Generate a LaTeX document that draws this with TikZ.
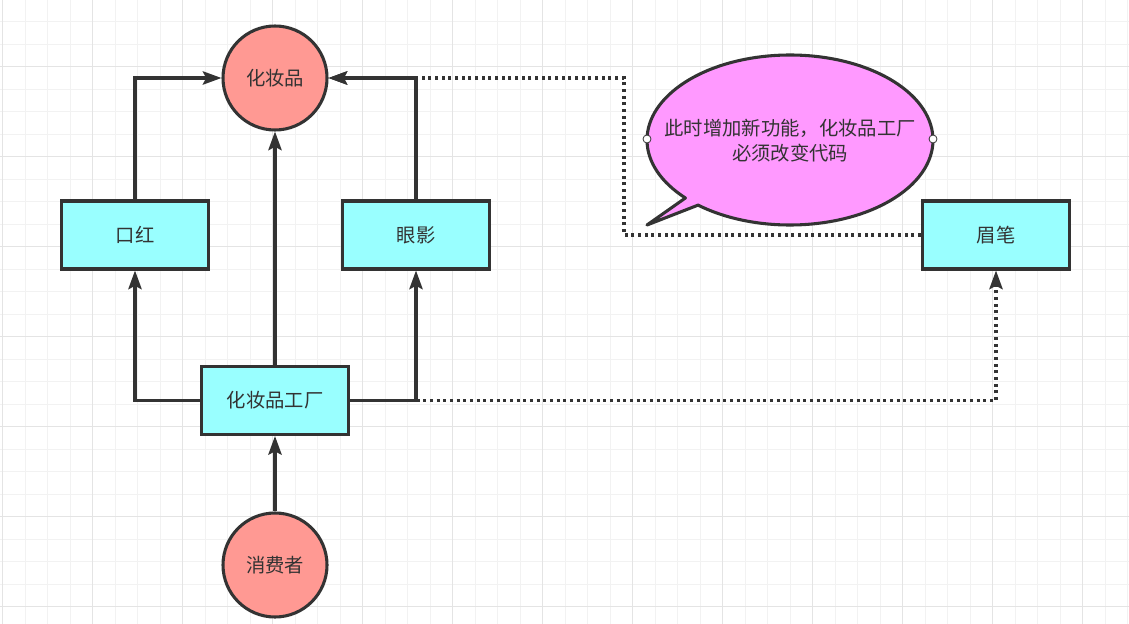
\documentclass[tikz,border=0pt]{standalone}
\usepackage{fontspec}
\setmainfont{Noto Sans CJK SC}
\usetikzlibrary{arrows.meta}

\definecolor{gridminor}{RGB}{242,242,242}
\definecolor{gridmajor}{RGB}{228,228,228}
\definecolor{linegray}{RGB}{51,51,51}
\definecolor{boxcyan}{RGB}{153,255,255}
\definecolor{ballred}{RGB}{255,153,147}
\definecolor{bubblepink}{RGB}{255,153,255}

\begin{document}
\begin{tikzpicture}[x=0.75pt,y=-0.75pt, every node/.style={font=\fontsize{14.5}{19}\selectfont, text=linegray}]

\tikzset{box/.style={rectangle, draw=linegray, line width=2.3pt, fill=boxcyan, minimum width=110pt, minimum height=51pt},
ball/.style={circle, draw=linegray, line width=2.3pt, fill=ballred, minimum size=78pt, inner sep=0pt},
link/.style={draw=linegray, line width=2.3pt, -{Stealth[length=14pt, width=10pt, inset=2.5pt]}},
dots/.style={draw=linegray, line width=2.3pt, dash pattern=on 2.3pt off 2.7pt, -{Stealth[length=14pt, width=10pt, inset=2.5pt]}},
handle/.style={circle, draw=linegray, line width=0.6pt, fill=white, minimum size=6pt, inner sep=0pt}}

\newcommand{\bubblerx}{143}
\newcommand{\bubblery}{85}

\useasboundingbox (0,0) rectangle (1129,624);

% grid paper
\foreach \k in {0,...,50} \draw[gridminor, line width=0.8pt] ({2.7+22.5*\k},0) -- ++(0,624);
\foreach \k in {1,...,27} \draw[gridminor, line width=0.8pt] (0,{-0.8+22.5*\k}) -- ++(1129,0);
\foreach \k in {0,...,12} \draw[gridmajor, line width=0.8pt] ({2.7+90*\k},0) -- ++(0,624);
\foreach \k in {0,...,6} \draw[gridmajor, line width=0.8pt] (0,{66.7+90*\k}) -- ++(1129,0);

\node[ball] (cosmetic) at (275,78) {化妆品};
\node[ball] (consumer) at (275,565) {消费者};
\node[box] (lipstick) at (135,235) {口红};
\node[box] (eyeshadow) at (416,235) {眼影};
\node[box] (eyebrow) at (996,235) {眉笔};
\node[box] (factory) at (275,400.5) {化妆品工厂};

\coordinate (bend) at (624,78);

\draw[dots] (factory.east) -| (eyebrow.south);
\draw[dots] (eyebrow.west) -| (bend) -- (cosmetic.east);

\draw[link] (lipstick.north) |- (cosmetic.west);
\draw[link] (eyeshadow.north) |- (cosmetic.east);
\draw[link] (factory.north) -- (cosmetic.south);
\draw[link] (factory.west) -| (lipstick.south);
\draw[link] (factory.east) -| (eyeshadow.south);
\draw[link] (consumer.north) -- (factory.south);

\draw[draw=linegray, line width=2.3pt, fill=bubblepink, line join=round] ({790+\bubblerx*cos(130)},{140+\bubblery*sin(130)}) arc[start angle=130, end angle=-223, x radius=\bubblerx, y radius=\bubblery] -- (647,225) -- cycle;
\node[align=center] (note) at (790,140.5) {此时增加新功能，化妆品工厂\\必须改变代码};
\node[handle] (lefthandle) at (647,139) {};
\node[handle] (righthandle) at (933,139) {};

\end{tikzpicture}
\end{document}
